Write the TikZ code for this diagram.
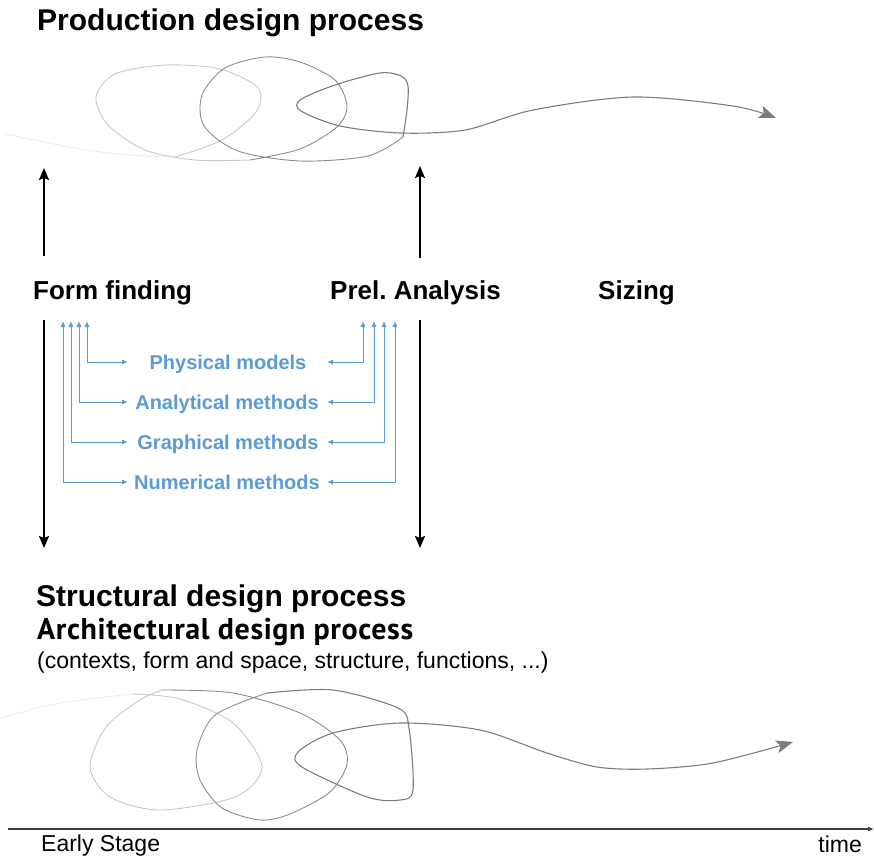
\documentclass[tikz,border=0pt]{standalone}
\usepackage{fontspec}
\setmainfont{Liberation Sans}
\newfontfamily\myriadlike[LetterSpace=2]{PT Sans}
\usetikzlibrary{arrows.meta}
\definecolor{mblue}{RGB}{91,155,213}
\definecolor{loopA}{RGB}{200,200,200}
\definecolor{loopB}{RGB}{140,140,140}
\definecolor{loopC}{RGB}{125,125,125}
\definecolor{tailc}{RGB}{236,236,236}
\begin{document}
\frenchspacing
\begin{tikzpicture}[x=1pt,y=-1pt,
  title/.style={anchor=base west, inner sep=0pt, font=\fontsize{30}{36}\selectfont\bfseries},
  stagelabel/.style={anchor=base west, inner sep=0pt, font=\fontsize{26}{30}\selectfont\bfseries},
  method/.style={anchor=base, inner sep=0pt, text=mblue, font=\fontsize{20}{24}\selectfont\bfseries},
  plaintext/.style={inner sep=0pt, font=\fontsize{23}{27}\selectfont},
  blackarrow/.style={line width=1.7pt, -{Stealth[length=12pt,width=10pt,inset=2pt]}},
  bluearrow/.style={mblue, line width=0.9pt, {Latex[length=6pt,width=5pt]}-{Latex[length=6pt,width=5pt]}},
  loopline/.style={line width=0.9pt, line cap=round, line join=round},
  flowtip/.style={-{Stealth[length=17pt,width=13pt,inset=4pt]}}
]
\useasboundingbox (0,0) rectangle (874,856);

% ---------- titles ----------
\node[title] (prod) at (37,31) {Production design process};
\node[title] (struct) at (36,606) {Structural design process};
\node[anchor=base west, inner sep=0pt, font=\myriadlike\fontsize{30}{34}\selectfont\bfseries] (arch) at (37,639) {Architectural design process};
\node[plaintext, anchor=base west] (ctx) at (37,668) {(contexts, form and space, structure, functions, ...)};

% ---------- stage labels ----------
\node[stagelabel] (ff) at (33,299) {Form finding};
\node[stagelabel] (pa) at (330,299) {Prel. Analysis};
\node[stagelabel] (sz) at (598,299) {Sizing};

% ---------- black arrows ----------
\coordinate (ffup0) at (44,256);
\coordinate (ffup1) at (44,168);
\coordinate (paup0) at (420,258);
\coordinate (paup1) at (420,166);
\coordinate (ffdn0) at (44,320);
\coordinate (ffdn1) at (44,548);
\coordinate (padn0) at (420,320);
\coordinate (padn1) at (420,548);
\draw[blackarrow] (ffup0) -- (ffup1);
\draw[blackarrow] (paup0) -- (paup1);
\draw[blackarrow] (ffdn0) -- (ffdn1);
\draw[blackarrow] (padn0) -- (padn1);

% ---------- methods ----------
\node[method] (m1) at (228,369) {Physical models};
\node[method] (m2) at (227,409) {Analytical methods};
\node[method] (m3) at (228,449) {Graphical methods};
\node[method] (m4) at (227,489) {Numerical methods};

\coordinate (L1) at (87,321);
\coordinate (L2) at (79,321);
\coordinate (L3) at (71,321);
\coordinate (L4) at (63,321);
\coordinate (R1) at (363,321);
\coordinate (R2) at (374,321);
\coordinate (R3) at (384,321);
\coordinate (R4) at (395,321);
\coordinate (m1l) at (128,362);
\coordinate (m2l) at (128,402);
\coordinate (m3l) at (128,442);
\coordinate (m4l) at (128,482);
\coordinate (m1r) at (327,362);
\coordinate (m2r) at (327,402);
\coordinate (m3r) at (327,442);
\coordinate (m4r) at (327,482);

\draw[bluearrow] (L1) |- (m1l);
\draw[bluearrow] (L2) |- (m2l);
\draw[bluearrow] (L3) |- (m3l);
\draw[bluearrow] (L4) |- (m4l);
\draw[bluearrow] (R1) |- (m1r);
\draw[bluearrow] (R2) |- (m2r);
\draw[bluearrow] (R3) |- (m3r);
\draw[bluearrow] (R4) |- (m4r);

% ---------- top loops ----------
\draw[loopline, tailc] plot[smooth] coordinates {(5,134) (80,149) (130,155) (175,157)};
\draw[loopline, loopA] plot[smooth] coordinates {(175,157) (222,140) (256,112) (258,88) (220,69) (165,65) (115,74) (96,97) (108,125) (145,150) (195,160) (250,160)};
\draw[loopline, loopB] plot[smooth] coordinates {(250,160) (300,149) (337,127) (347,106) (335,80) (300,62) (265,57) (225,68) (202,95) (204,126) (238,151) (300,161) (368,156) (403,137)};
\draw[loopline, loopC, line width=1.1pt, flowtip] plot[smooth] coordinates {(403,137) (407,110) (408,86) (401,76) (380,73) (335,85) (300,100) (301,111) (340,126) (400,133) (465,130) (533,110) (633,97) (733,106) (776,118)};

% ---------- bottom loops ----------
\draw[loopline, tailc] plot[smooth] coordinates {(0,718) (60,703) (133,694)};
\draw[loopline, loopA] plot[smooth] coordinates {(133,694) (180,699) (233,723) (262,767) (235,797) (160,810) (110,797) (90,767) (106,727) (140,700) (162,690)};
\draw[loopline, loopB] plot[smooth] coordinates {(162,690) (233,693) (300,713) (340,740) (347,764) (330,792) (290,814) (260,820) (222,808) (200,780) (197,750) (215,715) (267,693)};
\draw[loopline, loopC, line width=1.1pt, flowtip] plot[smooth] coordinates {(267,693) (333,690) (398,708) (409,728) (413,790) (400,800) (367,797) (302,767) (298,752) (333,733) (400,723) (480,730) (547,753) (597,767) (647,769) (713,763) (793,742)};

% ---------- time axis ----------
\coordinate (ax0) at (8,829);
\coordinate (ax1) at (874,829);
\draw[line width=1.1pt, black!75, -{Latex[length=6pt,width=5pt]}] (ax0) -- (ax1);
\node[plaintext, anchor=base west] (early) at (41,851) {Early Stage};
\node[plaintext, anchor=base east] (time) at (862,852) {time};
\end{tikzpicture}
\end{document}
